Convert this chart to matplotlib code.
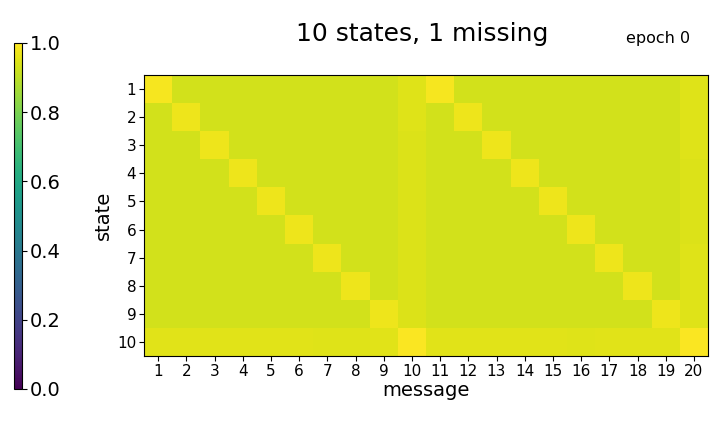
import matplotlib
matplotlib.use("Agg")
import matplotlib.pyplot as plt
import numpy as np

states = [str(i) for i in range(1, 11)]
messages = [str(i) for i in range(1, 21)]

# probability matrix: rows = states 1..10, columns = messages 1..20
values = [
    [0.985, 0.933, 0.933, 0.932, 0.932, 0.932, 0.932, 0.932, 0.932, 0.950,
     0.985, 0.933, 0.932, 0.932, 0.933, 0.932, 0.932, 0.932, 0.933, 0.950],
    [0.931, 0.975, 0.931, 0.931, 0.931, 0.933, 0.931, 0.931, 0.931, 0.950,
     0.931, 0.975, 0.931, 0.931, 0.932, 0.933, 0.931, 0.931, 0.931, 0.950],
    [0.931, 0.931, 0.975, 0.931, 0.931, 0.931, 0.931, 0.931, 0.931, 0.949,
     0.931, 0.931, 0.975, 0.931, 0.932, 0.932, 0.931, 0.931, 0.931, 0.950],
    [0.932, 0.931, 0.931, 0.975, 0.931, 0.932, 0.931, 0.933, 0.933, 0.949,
     0.932, 0.931, 0.932, 0.975, 0.932, 0.933, 0.931, 0.932, 0.932, 0.949],
    [0.931, 0.931, 0.931, 0.931, 0.975, 0.931, 0.931, 0.931, 0.931, 0.949,
     0.931, 0.932, 0.931, 0.932, 0.975, 0.931, 0.932, 0.931, 0.932, 0.949],
    [0.931, 0.931, 0.931, 0.932, 0.931, 0.975, 0.931, 0.931, 0.931, 0.949,
     0.931, 0.932, 0.931, 0.931, 0.931, 0.975, 0.930, 0.931, 0.931, 0.949],
    [0.931, 0.931, 0.931, 0.931, 0.931, 0.931, 0.975, 0.931, 0.931, 0.949,
     0.931, 0.931, 0.931, 0.931, 0.931, 0.931, 0.975, 0.931, 0.931, 0.950],
    [0.931, 0.931, 0.933, 0.931, 0.931, 0.931, 0.931, 0.975, 0.931, 0.949,
     0.931, 0.931, 0.931, 0.931, 0.931, 0.931, 0.931, 0.975, 0.931, 0.950],
    [0.932, 0.930, 0.930, 0.931, 0.930, 0.931, 0.931, 0.931, 0.975, 0.949,
     0.931, 0.931, 0.931, 0.931, 0.932, 0.931, 0.931, 0.931, 0.975, 0.950],
    [0.955, 0.955, 0.955, 0.955, 0.955, 0.955, 0.953, 0.953, 0.955, 0.995,
     0.955, 0.955, 0.955, 0.955, 0.955, 0.953, 0.955, 0.955, 0.955, 0.995],
]

title = "10 states, 1 missing"
epoch_label = "epoch 0"

data = np.array(values)

fig = plt.figure(figsize=(7.2, 4.32), dpi=100)
W, H = 720, 432

ax = fig.add_axes([144 / W, 1 - 356 / H, 564 / W, 281 / H])
im = ax.imshow(data, cmap="viridis", vmin=0.0, vmax=1.0, aspect="auto",
               interpolation="nearest")
ax.set_xticks(range(len(messages)))
ax.set_xticklabels(messages, fontsize=11)
ax.set_yticks(range(len(states)))
ax.set_yticklabels(states, fontsize=11)
ax.set_xlabel("message", fontsize=14, labelpad=2)
ax.set_ylabel("state", fontsize=14, labelpad=3)
ax.tick_params(length=3.5, pad=2)

cax = fig.add_axes([14 / W, 1 - 389 / H, 8 / W, 346 / H])
cb = fig.colorbar(im, cax=cax)
cb.set_ticks([0.0, 0.2, 0.4, 0.6, 0.8, 1.0])
cb.ax.tick_params(labelsize=14, length=3.5, pad=2)

fig.text(422 / W, 1 - 34 / H, title, fontsize=18, ha="center", va="center")
fig.text(658 / W, 1 - 38 / H, epoch_label, fontsize=11.5, ha="center", va="center")

fig.savefig("out.png", dpi=100)
